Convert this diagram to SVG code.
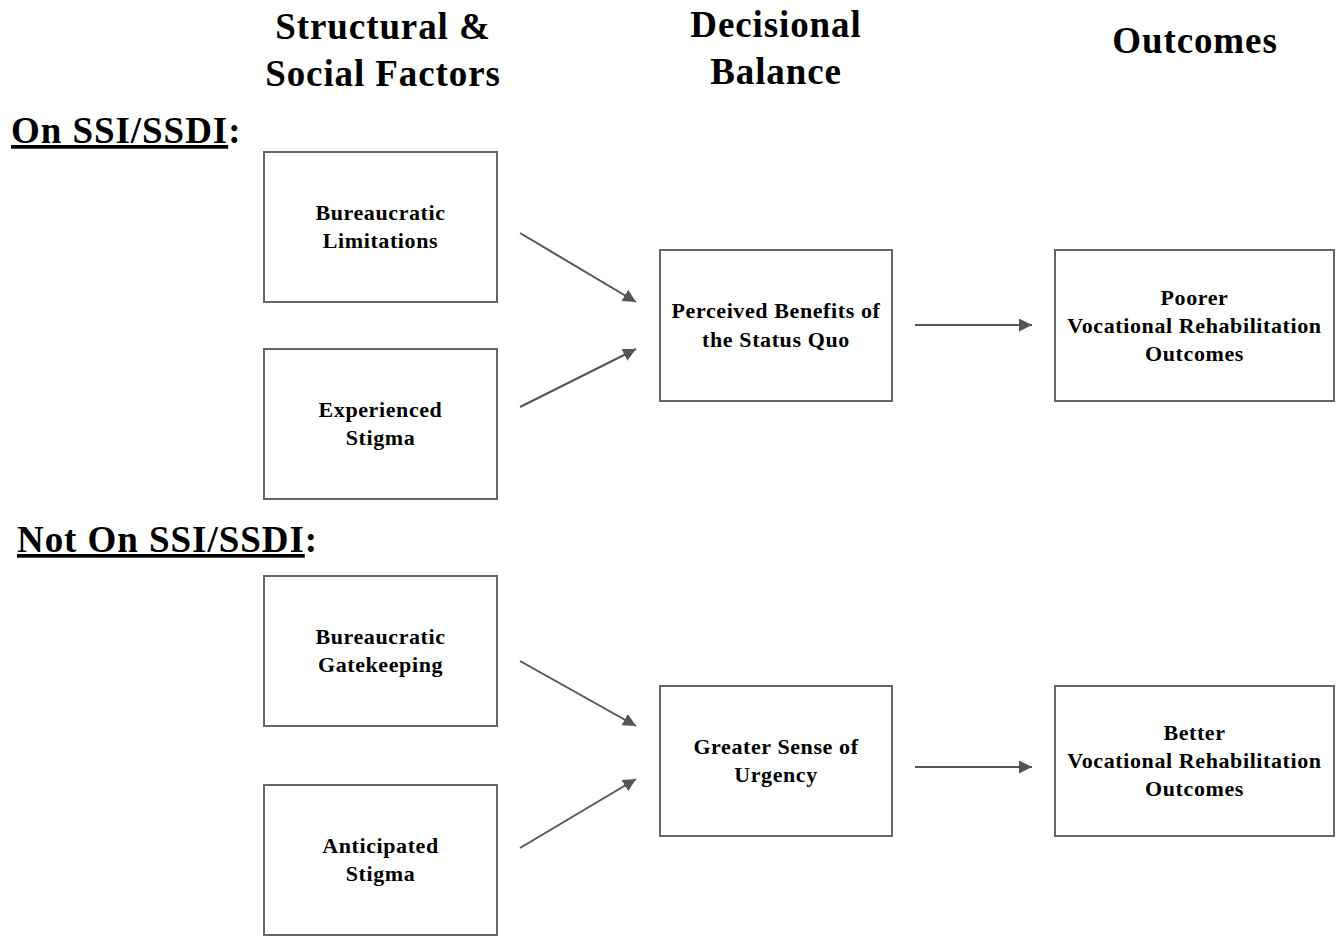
<svg xmlns="http://www.w3.org/2000/svg" width="1344" height="936" viewBox="0 0 1344 936">
<defs>
<style>
.h{font-family:"Liberation Serif","Times New Roman",serif;font-weight:bold;font-size:37px;letter-spacing:0.9px;fill:#000;text-anchor:middle}
.s{font-family:"Liberation Serif","Times New Roman",serif;font-weight:bold;font-size:37px;letter-spacing:0.95px;fill:#000}
.t{font-family:"Liberation Serif","Times New Roman",serif;font-weight:bold;font-size:22px;letter-spacing:0.6px;fill:#000;text-anchor:middle}
.b{fill:#fff;stroke:#666;stroke-width:2}
.c{stroke:#555;stroke-width:2;fill:none;marker-end:url(#ah)}
</style>
<marker id="ah" viewBox="0 0 10 10" refX="10" refY="5" markerWidth="6.5" markerHeight="6.5" markerUnits="strokeWidth" orient="auto">
<path d="M0,0 L10,5 L0,10 z" fill="#555"/>
</marker>
</defs>
<rect width="1344" height="936" fill="#fff"/>
<g id="headings">
<text class="h" x="383" y="39">Structural &amp;</text>
<text class="h" x="383" y="86">Social Factors</text>
<text class="h" x="776" y="37">Decisional</text>
<text class="h" x="776" y="84">Balance</text>
<text class="h" x="1195" y="53">Outcomes</text>
<text class="s" x="11" y="143"><tspan text-decoration="underline">On SSI/SSDI</tspan>:</text>
<text class="s" x="17" y="552"><tspan text-decoration="underline">Not On SSI/SSDI</tspan>:</text>
</g>
<g id="n1"><rect class="b" x="264" y="152" width="233" height="150"/><text class="t" x="380.5" y="220">Bureaucratic</text><text class="t" x="380.5" y="248">Limitations</text></g>
<g id="n2"><rect class="b" x="264" y="349" width="233" height="150"/><text class="t" x="380.5" y="417">Experienced</text><text class="t" x="380.5" y="445">Stigma</text></g>
<g id="n3"><rect class="b" x="660" y="250" width="232" height="151"/><text class="t" x="776" y="318">Perceived Benefits of</text><text class="t" x="776" y="347">the Status Quo</text></g>
<g id="n4"><rect class="b" x="1055" y="250" width="279" height="151"/><text class="t" x="1194.5" y="305">Poorer</text><text class="t" x="1194.5" y="333">Vocational Rehabilitation</text><text class="t" x="1194.5" y="361">Outcomes</text></g>
<g id="n5"><rect class="b" x="264" y="576" width="233" height="150"/><text class="t" x="380.5" y="644">Bureaucratic</text><text class="t" x="380.5" y="672">Gatekeeping</text></g>
<g id="n6"><rect class="b" x="264" y="785" width="233" height="150"/><text class="t" x="380.5" y="853">Anticipated</text><text class="t" x="380.5" y="881">Stigma</text></g>
<g id="n7"><rect class="b" x="660" y="686" width="232" height="150"/><text class="t" x="776" y="754">Greater Sense of</text><text class="t" x="776" y="782">Urgency</text></g>
<g id="n8"><rect class="b" x="1055" y="686" width="279" height="150"/><text class="t" x="1194.5" y="740">Better</text><text class="t" x="1194.5" y="768">Vocational Rehabilitation</text><text class="t" x="1194.5" y="796">Outcomes</text></g>
<g id="connectors">
<line class="c" x1="520" y1="233" x2="636" y2="302"/>
<line class="c" x1="520" y1="407" x2="636" y2="349"/>
<line class="c" x1="915" y1="325" x2="1032" y2="325"/>
<line class="c" x1="520" y1="661" x2="636" y2="726"/>
<line class="c" x1="520" y1="848" x2="636" y2="779"/>
<line class="c" x1="915" y1="767" x2="1032" y2="767"/>
</g>
</svg>
